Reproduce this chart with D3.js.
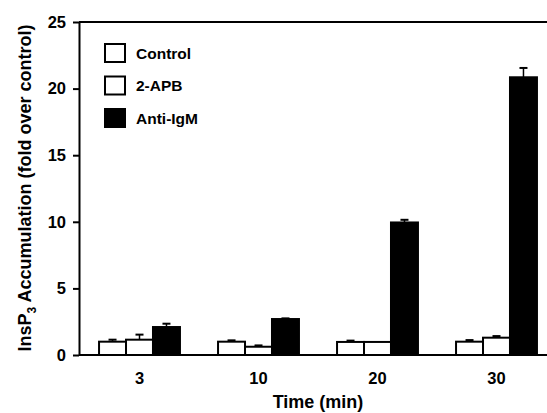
<!DOCTYPE html>
<html>
<head>
<meta charset="utf-8">
<script src="https://cdn.jsdelivr.net/npm/d3@7/dist/d3.min.js"></script>
<style>
  html, body { margin: 0; padding: 0; background: #fff; }
  svg { display: block; font-family: "Liberation Sans", Arial, sans-serif; font-weight: bold; }
</style>
</head>
<body>
<svg id="chart" width="547" height="413"></svg>
<script>
const categories = ["3", "10", "20", "30"];
const seriesNames = ["Control", "2-APB", "Anti-IgM"];
const controlValues = [1.0, 1.0, 0.98, 1.0];
const controlErrors = [0.15, 0.1, 0.1, 0.12];
const apbValues = [1.15, 0.62, 0.98, 1.3];
const apbErrors = [0.38, 0.1, 0.0, 0.12];
const antiValues = [2.1, 2.7, 9.95, 20.85];
const antiErrors = [0.25, 0.05, 0.2, 0.7];
const yTicks = [0, 5, 10, 15, 20, 25];

const series = [
  { name: seriesNames[0], values: controlValues, errors: controlErrors, fill: "#fff" },
  { name: seriesNames[1], values: apbValues, errors: apbErrors, fill: "#fff" },
  { name: seriesNames[2], values: antiValues, errors: antiErrors, fill: "#000" }
];

const svg = d3.select("#chart");
const mLeft = 79, mTop = 22, mBottom = 355, rightVirtual = 556;

const y = d3.scaleLinear().domain([0, 25]).range([mBottom, mTop]);
const x = d3.scaleBand().domain(categories).range([80, rightVirtual]).paddingInner(0.32).paddingOuter(0.16);
const xs = d3.scaleBand().domain(seriesNames).range([0, x.bandwidth()]);

// bars
const groups = svg.append("g").selectAll("g").data(categories).join("g")
  .attr("transform", d => `translate(${x(d)},0)`);

series.forEach(s => {
  groups.append("rect")
    .attr("x", () => xs(s.name))
    .attr("width", xs.bandwidth())
    .attr("y", (d, i) => y(s.values[i]))
    .attr("height", (d, i) => y(0) - y(s.values[i]))
    .attr("fill", s.fill)
    .attr("stroke", "#000")
    .attr("stroke-width", 2);
  groups.each(function(d, i) {
    if (!(s.errors[i] > 0)) return;
    const cx = xs(s.name) + xs.bandwidth() / 2;
    const g = d3.select(this);
    g.append("line")
      .attr("x1", cx).attr("x2", cx)
      .attr("y1", y(s.values[i])).attr("y2", y(s.values[i] + s.errors[i]))
      .attr("stroke", "#000").attr("stroke-width", 1.5);
    g.append("line")
      .attr("x1", cx - 4).attr("x2", cx + 4)
      .attr("y1", y(s.values[i] + s.errors[i])).attr("y2", y(s.values[i] + s.errors[i]))
      .attr("stroke", "#000").attr("stroke-width", 2);
  });
});

// top frame line
svg.append("line")
  .attr("x1", mLeft).attr("x2", 547)
  .attr("y1", mTop).attr("y2", mTop)
  .attr("stroke", "#000").attr("stroke-width", 2);

// y axis
const yAxis = svg.append("g")
  .attr("transform", `translate(${mLeft},0)`)
  .call(d3.axisLeft(y).tickValues(yTicks).tickSize(6).tickPadding(7).tickSizeOuter(0));
yAxis.select(".domain").attr("stroke-width", 2);
yAxis.selectAll(".tick line").attr("stroke-width", 2);
yAxis.selectAll("text").attr("font-size", 16.5).attr("font-weight", "bold")
  .attr("font-family", "Liberation Sans, Arial, sans-serif").attr("fill", "#000");

// x axis
const xAxis = svg.append("g")
  .attr("transform", `translate(0,${mBottom})`)
  .call(d3.axisBottom(x).tickSize(0).tickPadding(17));
xAxis.select(".domain").attr("d", `M${mLeft},0H547`).attr("stroke-width", 2);
xAxis.selectAll("text").attr("font-size", 16.5).attr("font-weight", "bold")
  .attr("font-family", "Liberation Sans, Arial, sans-serif").attr("fill", "#000");

// axis titles
svg.append("text")
  .attr("x", (80 + rightVirtual) / 2).attr("y", 408)
  .attr("text-anchor", "middle").attr("font-size", 18)
  .text("Time (min)");

const yt = svg.append("text")
  .attr("transform", `translate(31,188) rotate(-90)`)
  .attr("text-anchor", "middle").attr("font-size", 18);
yt.append("tspan").text("InsP");
yt.append("tspan").attr("font-size", 12).attr("dy", 5).text("3");
yt.append("tspan").attr("dy", -5).text(" Accumulation (fold over control)");

// legend
const legend = svg.append("g").selectAll("g").data(series).join("g")
  .attr("transform", (d, i) => `translate(105,${53 + i * 32.5})`);
legend.append("rect")
  .attr("x", 0).attr("y", -9).attr("width", 20).attr("height", 18)
  .attr("fill", d => d.fill).attr("stroke", "#000").attr("stroke-width", 2);
legend.append("text")
  .attr("x", 31).attr("y", 5.5).attr("font-size", 15.5)
  .text(d => d.name);
</script>
</body>
</html>
